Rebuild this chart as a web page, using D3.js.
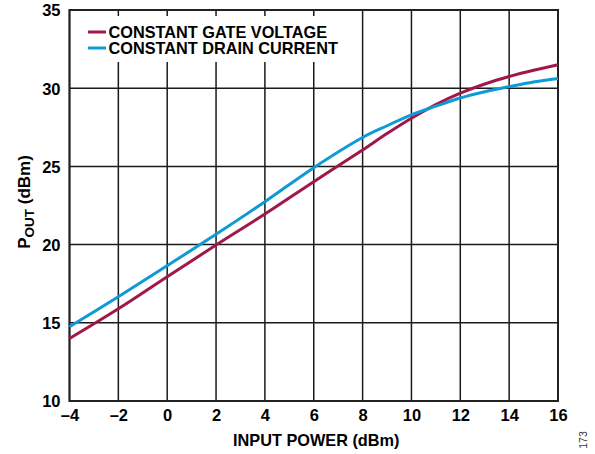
<!DOCTYPE html>
<html>
<head>
<meta charset="utf-8">
<script src="https://cdn.jsdelivr.net/npm/d3@7"></script>
<style>
  html, body { margin: 0; padding: 0; background: #fff; }
  svg { display: block; font-family: "Liberation Sans", Arial, sans-serif; }
</style>
</head>
<body>
<svg id="chart" width="595" height="454"></svg>
<script>
// Input power sweep (dBm)
const inputPower = [-4, -2, 0, 2, 4, 6, 8, 9, 10, 11, 12, 13, 14, 15, 16];
// Output power (dBm) for the two bias modes
const constantGateVoltage = [14.0, 15.9, 17.95, 19.97, 21.95, 24.02, 26.05, 27.1, 28.08, 28.95, 29.68, 30.27, 30.75, 31.15, 31.5];
const constantDrainCurrent = [14.75, 16.67, 18.65, 20.66, 22.74, 24.92, 26.85, 27.6, 28.3, 28.85, 29.37, 29.77, 30.1, 30.4, 30.62];
const seriesNames = ["CONSTANT GATE VOLTAGE", "CONSTANT DRAIN CURRENT"];
const seriesColors = ["#A0174A", "#0E9AD6"];
const xTicks = [-4, -2, 0, 2, 4, 6, 8, 10, 12, 14, 16];
const yTicks = [10, 15, 20, 25, 30, 35];

const svg = d3.select("#chart");
const plot = { left: 69.5, right: 558, top: 10, bottom: 401 };

const x = d3.scaleLinear().domain([-4, 16]).range([plot.left, plot.right]);
const y = d3.scaleLinear().domain([10, 35]).range([plot.bottom, plot.top]);

// Grid
const grid = svg.append("g");
grid.selectAll("line.v").data(xTicks).join("line")
  .attr("x1", d => x(d)).attr("x2", d => x(d))
  .attr("y1", plot.top).attr("y2", plot.bottom)
  .attr("stroke", "#1a1a1a").attr("stroke-width", 1.5);
grid.selectAll("line.h").data(yTicks).join("line")
  .attr("x1", plot.left).attr("x2", plot.right)
  .attr("y1", d => y(d)).attr("y2", d => y(d))
  .attr("stroke", "#1a1a1a").attr("stroke-width", 1.5);

// Legend backdrop hides the grid behind the legend text
svg.append("rect")
  .attr("x", 76).attr("y", 16).attr("width", 270).attr("height", 46)
  .attr("fill", "#fff");

// Frame
svg.append("rect")
  .attr("x", plot.left).attr("y", plot.top)
  .attr("width", plot.right - plot.left).attr("height", plot.bottom - plot.top)
  .attr("fill", "none").attr("stroke", "#222").attr("stroke-width", 2);

// Axes (labels only; the grid supplies the tick lines)
const xAxis = d3.axisBottom(x).tickValues(xTicks).tickSize(0).tickPadding(0)
  .tickFormat(d => d < 0 ? "\u2013" + Math.abs(d) : String(d));
const gx = svg.append("g").attr("transform", `translate(0,${plot.bottom})`).call(xAxis);
gx.select(".domain").remove();
gx.selectAll("text")
  .attr("y", 19.5).attr("dy", 0)
  .attr("fill", "#000").attr("font-size", 16.5).attr("font-weight", "bold")
  .attr("font-family", "Liberation Sans, Arial, sans-serif");

const yAxis = d3.axisLeft(y).tickValues(yTicks).tickSize(0).tickPadding(0);
const gy = svg.append("g").attr("transform", `translate(${plot.left - 9},0)`).call(yAxis);
gy.select(".domain").remove();
gy.selectAll("text")
  .attr("x", 0).attr("dy", "0.36em")
  .attr("fill", "#000").attr("font-size", 16.5).attr("font-weight", "bold")
  .attr("font-family", "Liberation Sans, Arial, sans-serif");

// Curves
const series = [constantGateVoltage, constantDrainCurrent];
const line = d3.line().x(d => x(d[0])).y(d => y(d[1])).curve(d3.curveCatmullRom.alpha(0.5));
series.forEach((vals, i) => {
  svg.append("path")
    .datum(inputPower.map((p, k) => [p, vals[k]]))
    .attr("d", line)
    .attr("fill", "none")
    .attr("stroke", seriesColors[i])
    .attr("stroke-width", 3);
});

// Legend
const legend = svg.append("g");
seriesNames.forEach((name, i) => {
  const ly = 32 + i * 16;
  legend.append("line")
    .attr("x1", 88).attr("x2", 106).attr("y1", ly).attr("y2", ly)
    .attr("stroke", seriesColors[i]).attr("stroke-width", 3);
  legend.append("text")
    .attr("x", 108.5).attr("y", ly + 5.8)
    .attr("font-size", 16.3).attr("font-weight", "bold")
    .text(name);
});

// Axis titles
svg.append("text")
  .attr("x", (plot.left + plot.right) / 2 + 2.5).attr("y", 446)
  .attr("text-anchor", "middle")
  .attr("font-size", 16.3).attr("font-weight", "bold")
  .text("INPUT POWER (dBm)");

const yTitle = svg.append("text")
  .attr("transform", "translate(30,202) rotate(-90)")
  .attr("text-anchor", "middle")
  .attr("font-size", 17).attr("font-weight", "bold");
yTitle.append("tspan").text("P");
yTitle.append("tspan").attr("font-size", 13.5).attr("dy", 4).text("OUT");
yTitle.append("tspan").attr("dy", -4).text(" (dBm)");

// Figure number
svg.append("text")
  .attr("transform", "translate(587,440) rotate(-90)")
  .attr("text-anchor", "middle")
  .attr("font-size", 10.5).attr("fill", "#333")
  .text("173");
</script>
</body>
</html>
